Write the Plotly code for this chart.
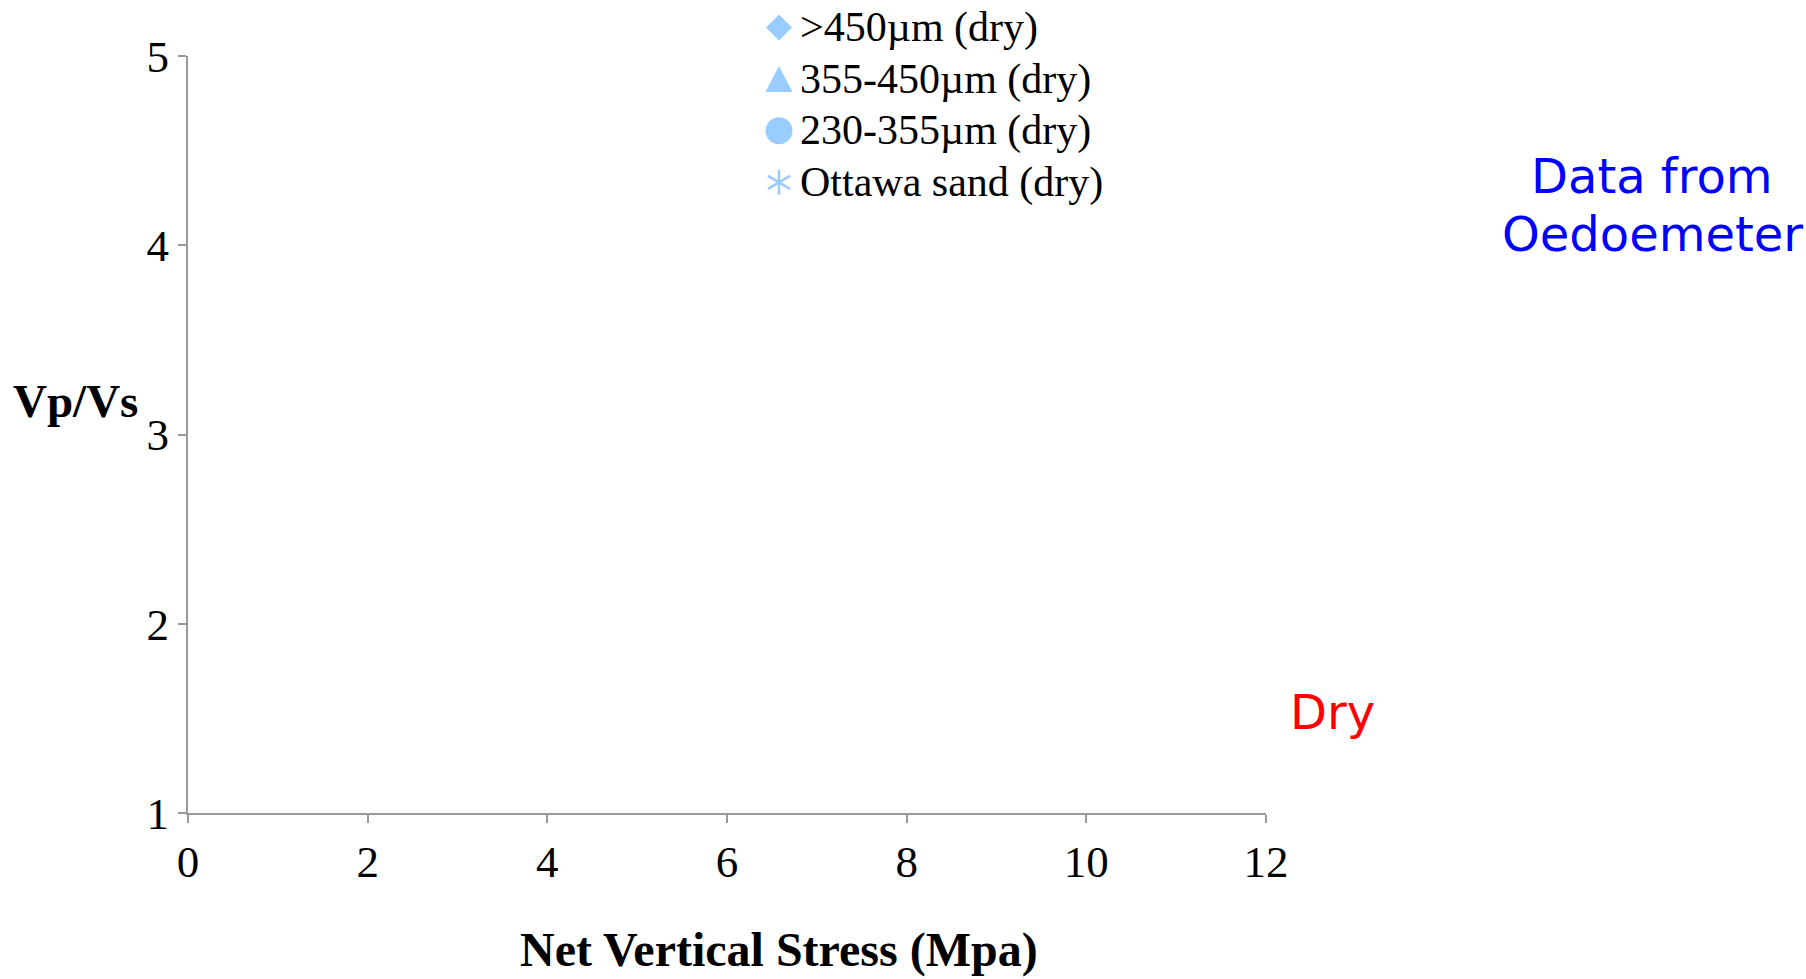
import plotly.graph_objects as go

# Series: net vertical stress (MPa) vs Vp/Vs, dry samples (no points recorded)
series_names = [">450µm (dry)", "355-450µm (dry)", "230-355µm (dry)", "Ottawa sand (dry)"]
series_symbols = ["diamond", "triangle-up", "circle", "asterisk-open"]
stress_gt450 = [None]
vpvs_gt450 = [None]
stress_355_450 = [None]
vpvs_355_450 = [None]
stress_230_355 = [None]
vpvs_230_355 = [None]
stress_ottawa = [None]
vpvs_ottawa = [None]

x_ticks = [0, 2, 4, 6, 8, 10, 12]
y_ticks = [1, 2, 3, 4, 5]

series_x = [stress_gt450, stress_355_450, stress_230_355, stress_ottawa]
series_y = [vpvs_gt450, vpvs_355_450, vpvs_230_355, vpvs_ottawa]

MARKER = "#99ccff"
AXIS = "#999999"
SERIF = "Liberation Serif"

# plot area in pixels
L, R, T, B = 188, 1266, 56, 813
W, H = 1806, 979


def px_x(px):
    return (px - L) / (R - L)


def px_y(py):
    return (B - py) / (B - T)


fig = go.Figure()
for name, sym, xs, ys in zip(series_names, series_symbols, series_x, series_y):
    fig.add_trace(go.Scatter(
        x=xs, y=ys, name=name, mode="markers", showlegend=False,
        marker=dict(symbol=sym, size=16, color=MARKER,
                    line=dict(color=MARKER, width=2)),
    ))

# Legend glyphs (pixel-sized shapes) and labels, one row per series
glyph_paths = {
    "diamond": "M0,13 L13,0 L0,-13 L-13,0 Z",
    "triangle-up": "M0,13 L13.5,-13 L-13.5,-13 Z",
    "asterisk-open": "M0,-12.5 L0,12.5 M-11,6.5 L11,-6.5 M-11,-6.5 L11,6.5",
}
legend_x_sym, legend_x_text = 779, 798
legend_y0, legend_dy = 27.5, 51.6

shapes = []
annotations = []
for i, (name, sym) in enumerate(zip(series_names, series_symbols)):
    cy = legend_y0 + i * legend_dy
    common = dict(xref="paper", yref="paper", xsizemode="pixel", ysizemode="pixel",
                  xanchor=px_x(legend_x_sym), yanchor=px_y(cy), layer="above")
    if sym == "circle":
        shapes.append(dict(type="circle", x0=-13.5, x1=13.5, y0=-13.5, y1=13.5,
                           fillcolor=MARKER, line=dict(width=0), **common))
    elif sym == "asterisk-open":
        shapes.append(dict(type="path", path=glyph_paths[sym],
                           line=dict(color=MARKER, width=2.5), **common))
    else:
        shapes.append(dict(type="path", path=glyph_paths[sym], fillcolor=MARKER,
                           line=dict(width=0), **common))
    annotations.append(dict(
        text=name, xref="paper", yref="paper", x=px_x(legend_x_text), y=px_y(cy),
        xanchor="left", yanchor="middle", showarrow=False,
        font=dict(family=SERIF, size=42, color="black"),
    ))

annotations += [
    dict(text="<b>Net Vertical Stress (Mpa)</b>", xref="paper", yref="paper",
         x=px_x(779), y=px_y(950), xanchor="center", yanchor="middle",
         showarrow=False, font=dict(family=SERIF, size=48, color="black")),
    dict(text="<b>Vp/Vs</b>", xref="paper", yref="paper", x=px_x(76), y=px_y(401),
         xanchor="center", yanchor="middle", showarrow=False,
         font=dict(family=SERIF, size=47, color="black")),
    dict(text="Data from", xref="paper", yref="paper",
         x=px_x(1652), y=px_y(176), xanchor="center", yanchor="middle",
         showarrow=False, font=dict(family="DejaVu Sans", size=48, color="#0000ff")),
    dict(text="Oedoemeter", xref="paper", yref="paper",
         x=px_x(1652), y=px_y(234), xanchor="center", yanchor="middle",
         showarrow=False, font=dict(family="DejaVu Sans", size=48, color="#0000ff")),
    dict(text="Dry", xref="paper", yref="paper",
         x=px_x(1332), y=px_y(712), xanchor="center", yanchor="middle",
         showarrow=False, font=dict(family="DejaVu Sans", size=48, color="#ff0000")),
]

fig.update_layout(
    width=W, height=H,
    margin=dict(l=L, r=W - R, t=T, b=H - B),
    paper_bgcolor="white", plot_bgcolor="white",
    font=dict(family=SERIF, color="black", size=42),
    showlegend=False,
    xaxis=dict(
        range=[0, 12], tickvals=x_ticks, ticktext=[str(v) for v in x_ticks],
        showgrid=False, zeroline=False, showline=True, linecolor=AXIS, linewidth=2,
        ticks="outside", ticklen=8, tickwidth=2, tickcolor=AXIS,
        tickfont=dict(family=SERIF, size=45, color="black"),
    ),
    yaxis=dict(
        range=[1, 5], tickvals=y_ticks, ticktext=[str(v) for v in y_ticks],
        showgrid=False, zeroline=False, showline=True, linecolor=AXIS, linewidth=2,
        ticks="outside", ticklen=8, tickwidth=2, tickcolor=AXIS,
        tickfont=dict(family=SERIF, size=45, color="black"),
    ),
    shapes=shapes,
    annotations=annotations,
)

fig.write_html("out.html")
